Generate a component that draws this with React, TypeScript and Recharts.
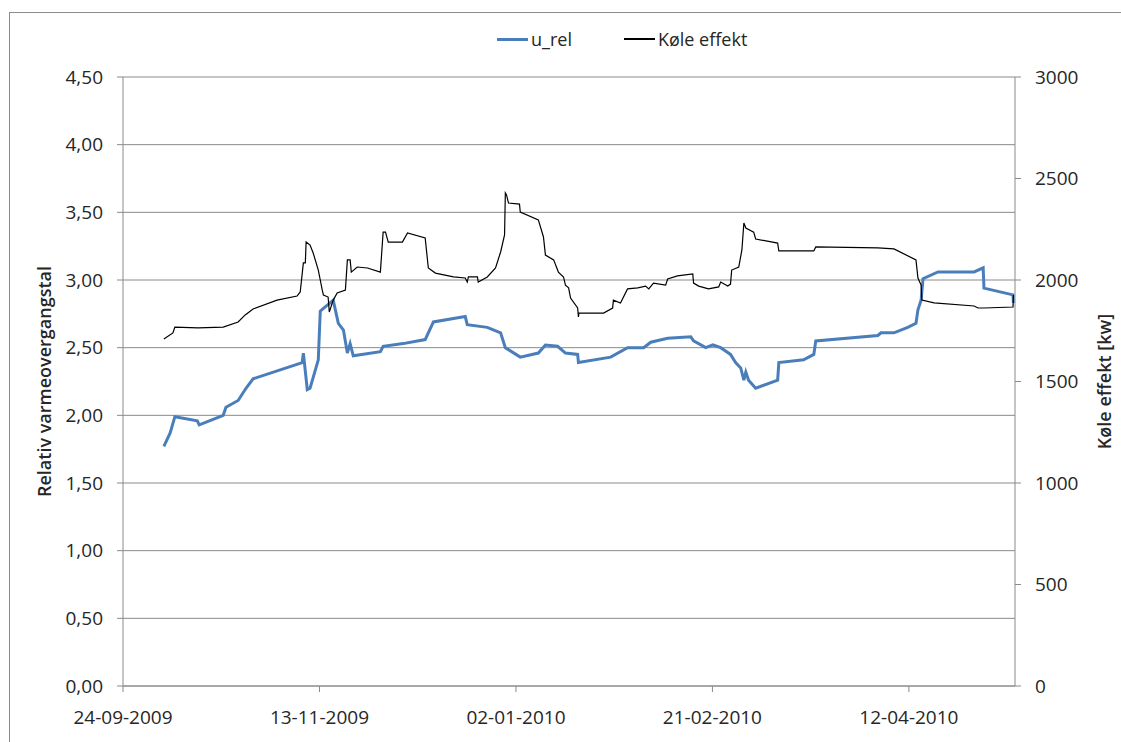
import {
    CartesianGrid,
    Line,
    LineChart,
    XAxis,
    YAxis,
} from 'recharts';

// days counted from 24-09-2009
const uRelDays = [
    10.4, 12.0, 13.2, 18.9, 19.4, 25.5, 26.2, 29.3, 31.3, 33.1, 45.6, 45.9,
    46.9, 47.6, 49.7, 50.2, 51.0, 53.5, 54.8, 56.1, 57.1, 57.8, 58.6, 65.5,
    66.2, 71.3, 76.9, 79.0, 87.1, 87.6, 92.7, 96.1, 97.3, 101.1, 105.7, 107.5,
    110.6, 112.6, 115.7, 115.9, 124.1, 128.4, 132.5, 134.3, 138.6, 144.5,
    145.2, 148.3, 150.1, 152.1, 154.6, 155.9, 157.2, 158.0, 158.5, 159.2,
    161.0, 166.6, 166.9, 173.2, 175.8, 176.3, 192.1, 192.9, 196.2, 199.7,
    201.8, 202.3, 203.1, 203.6, 207.4, 216.6, 218.9, 219.1, 226.5, 226.6,
];
const uRelValues = [
    1.77, 1.87, 1.99, 1.96, 1.93, 2.0, 2.06, 2.11, 2.2, 2.27, 2.39, 2.46,
    2.19, 2.2, 2.41, 2.77, 2.79, 2.85, 2.68, 2.63, 2.46, 2.53, 2.44, 2.47,
    2.51, 2.53, 2.56, 2.69, 2.73, 2.67, 2.65, 2.61, 2.5, 2.43, 2.46, 2.52,
    2.51, 2.46, 2.45, 2.39, 2.43, 2.5, 2.5, 2.54, 2.57, 2.58,
    2.55, 2.5, 2.52, 2.5, 2.45, 2.39, 2.35, 2.26, 2.32, 2.26,
    2.2, 2.26, 2.39, 2.41, 2.45, 2.55, 2.59, 2.61, 2.61, 2.65,
    2.68, 2.78, 2.85, 3.01, 3.06, 3.06, 3.09, 2.94, 2.89, 2.83,
];

const koleDays = [
    10.4, 12.7, 13.2, 19.1, 25.5, 29.3, 31.1, 33.1, 39.2, 44.3, 45.1, 45.9,
    46.4, 46.6, 47.6, 48.4, 49.7, 50.2, 50.7, 51.0, 52.2, 52.5, 53.5, 54.5,
    56.6, 57.1, 57.8, 58.1, 59.6, 62.2, 65.5, 66.2, 66.8, 67.5, 71.1, 72.4,
    76.9, 77.7, 79.5, 84.1, 87.1, 87.6, 87.9, 90.2, 90.4, 92.7, 94.8, 96.1,
    97.1, 97.3, 97.6, 98.1, 100.9, 101.1, 105.7, 107.0, 107.5, 109.6, 110.8,
    112.1, 112.6, 113.4, 113.9, 115.7, 115.9, 116.0, 122.3, 124.6, 124.8,
    126.6, 128.4, 131.0, 133.0, 133.8, 135.0, 138.1, 138.6, 141.1, 145.0,
    145.2, 146.5, 149.0, 151.6, 152.1, 153.9, 154.6, 154.9, 156.7, 157.5,
    158.0, 158.5, 160.5, 161.0, 166.6, 166.9, 175.8, 176.3, 192.1, 196.2,
    201.8, 202.3, 203.1, 203.3, 206.4, 216.6, 217.6, 219.1, 226.5, 226.6,
];
const koleValues = [
    1709, 1739, 1768, 1764, 1768, 1793, 1828, 1857, 1901, 1921, 1941, 2084,
    2084, 2187, 2172, 2133, 2049, 2000, 1951, 1926, 1916, 1842, 1901, 1936,
    1951, 2099, 2099, 2039, 2064, 2059, 2039, 2236, 2236, 2187, 2187, 2232,
    2207, 2059, 2034, 2015, 2010, 1990, 2015, 2015, 1990, 2015, 2059, 2138,
    2222, 2429, 2419, 2379, 2374, 2335, 2296, 2212, 2123, 2099, 2039,
    2015, 1975, 1961, 1911, 1862, 1818, 1837, 1837, 1862, 1901,
    1887, 1956, 1961, 1970, 1956, 1985, 1975, 2005, 2020, 2030,
    1985, 1970, 1956, 1966, 1990, 1970, 1980, 2049, 2064, 2148,
    2281, 2256, 2236, 2202, 2182, 2143, 2143, 2163, 2158, 2153,
    2099, 2010, 1975, 1901, 1887, 1872, 1862, 1862, 1867, 1926,
];

const dateTicks = [0, 50, 100, 150, 200];
const dateLabels = ['24-09-2009', '13-11-2009', '02-01-2010', '21-02-2010', '12-04-2010'];
const leftTicks = [0, 0.5, 1, 1.5, 2, 2.5, 3, 3.5, 4, 4.5];
const rightTicks = [0, 500, 1000, 1500, 2000, 2500, 3000];

const SERIES = [
    { key: 'u_rel', name: 'u_rel', color: '#4a7ebb', width: 3 },
    { key: 'kole', name: 'Køle effekt', color: '#000000', width: 1.2 },
];

const FONT = '"Open Sans", sans-serif';
const TEXT = '#262626';
const GRID = '#8a8a8a';

const uRelData = uRelDays.map((day, i) => ({ day, value: uRelValues[i] }));
const koleData = koleDays.map((day, i) => ({ day, value: koleValues[i] }));

const formatLeft = (v: number) => v.toFixed(2).replace('.', ',');
const formatDate = (v: number) => dateLabels[dateTicks.indexOf(v)] ?? '';

const ChartLegend = () => (
    <div
        style={{
            position: 'absolute',
            left: 497,
            top: 27,
            display: 'flex',
            alignItems: 'center',
            fontFamily: FONT,
            fontSize: 18,
            color: TEXT,
        }}
    >
        {SERIES.map((s, i) => (
            <div
                key={s.key}
                style={{ display: 'flex', alignItems: 'center', marginRight: i === 0 ? 52 : 0 }}
            >
                <div style={{ width: 31, height: s.width, background: s.color, marginRight: 3 }} />
                <span>{s.name}</span>
            </div>
        ))}
    </div>
);

const App = () => (
    <div
        style={{
            position: 'fixed',
            left: 0,
            top: 0,
            width: 1121,
            height: 742,
            overflow: 'hidden',
            background: '#ffffff',
        }}
    >
        <div
            style={{
                position: 'absolute',
                left: 9,
                top: 12,
                width: 1200,
                height: 800,
                border: '1px solid #8c8c8c',
            }}
        />
        <ChartLegend />
        <div style={{ position: 'absolute', left: 0, top: 0 }}>
            <LineChart
                width={1121}
                height={742}
                margin={{ top: 77, right: 6, bottom: 16, left: 23 }}
            >
                <CartesianGrid
                    yAxisId="left"
                    vertical={false}
                    stroke={GRID}
                    strokeWidth={1}
                />
                <XAxis
                    dataKey="day"
                    type="number"
                    domain={[0, 227]}
                    ticks={dateTicks}
                    tickFormatter={formatDate}
                    height={40}
                    tickSize={6}
                    tickMargin={19}
                    stroke={GRID}
                    tick={{ fill: TEXT, fontSize: 19, fontFamily: FONT }}
                    allowDuplicatedCategory
                />
                <YAxis
                    yAxisId="left"
                    domain={[0, 4.5]}
                    ticks={leftTicks}
                    tickFormatter={formatLeft}
                    width={100}
                    tickSize={6}
                    tickMargin={14}
                    stroke={GRID}
                    tick={{ fill: TEXT, fontSize: 19, fontFamily: FONT }}
                    label={{
                        value: 'Relativ varmeovergangstal',
                        angle: -90,
                        position: 'insideLeft',
                        offset: 22,
                        style: {
                            textAnchor: 'middle',
                            fill: TEXT,
                            fontSize: 18,
                            fontWeight: 600,
                            fontFamily: FONT,
                        },
                    }}
                />
                <YAxis
                    yAxisId="right"
                    orientation="right"
                    domain={[0, 3000]}
                    ticks={rightTicks}
                    width={100}
                    tickSize={6}
                    tickMargin={14}
                    stroke={GRID}
                    tick={{ fill: TEXT, fontSize: 19, fontFamily: FONT }}
                    label={{
                        value: 'Køle effekt [kw]',
                        angle: -90,
                        position: 'insideRight',
                        offset: 10,
                        style: {
                            textAnchor: 'middle',
                            fill: TEXT,
                            fontSize: 18,
                            fontWeight: 600,
                            fontFamily: FONT,
                        },
                    }}
                />
                <Line
                    yAxisId="left"
                    data={uRelData}
                    dataKey="value"
                    name={SERIES[0].name}
                    type="linear"
                    stroke={SERIES[0].color}
                    strokeWidth={SERIES[0].width}
                    dot={false}
                    isAnimationActive={false}
                />
                <Line
                    yAxisId="right"
                    data={koleData}
                    dataKey="value"
                    name={SERIES[1].name}
                    type="linear"
                    stroke={SERIES[1].color}
                    strokeWidth={SERIES[1].width}
                    dot={false}
                    isAnimationActive={false}
                />
            </LineChart>
        </div>
    </div>
);

export default App;
